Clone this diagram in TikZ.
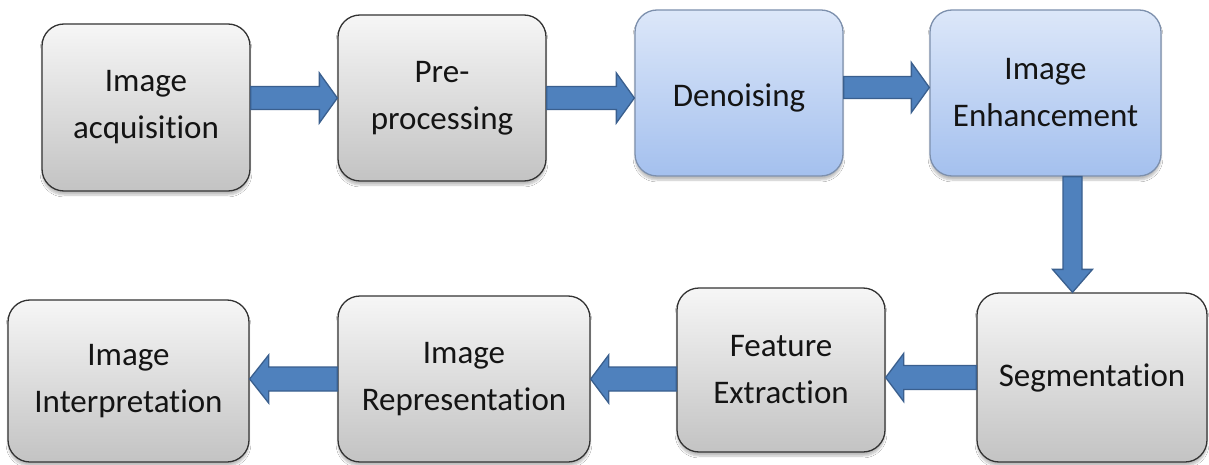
\documentclass[tikz,border=0pt]{standalone}
\usepackage{fontspec}
\setmainfont{Carlito}[Ligatures=NoCommon]
\usetikzlibrary{calc,shadows.blur}
\definecolor{arrowblue}{HTML}{4F81BD}
\definecolor{arrowdark}{HTML}{3A5F8E}
\definecolor{graytop}{HTML}{F6F6F6}
\definecolor{graybot}{HTML}{C3C3C3}
\definecolor{bluetop}{HTML}{DCE7F9}
\definecolor{bluebot}{HTML}{A4C0EE}
\definecolor{blueedge}{HTML}{7D90AD}
\definecolor{txt}{HTML}{141414}
\tikzset{
  box/.style={rounded corners=22pt, line width=1.3pt, align=center, text=txt,
    font=\fontsize{33}{47}\selectfont, inner sep=0pt,
    blur shadow={shadow xshift=0pt, shadow yshift=-4pt, shadow opacity=25, shadow blur steps=6}},
  graybox/.style={box, draw=black!80, top color=graytop, bottom color=graybot},
  bluebox/.style={box, draw=blueedge, top color=bluetop, bottom color=bluebot},
  barrow/.style n args={3}{fill=arrowblue, draw=arrowdark, line width=1.3pt, line join=miter,
    to path={
      ($(\tikztotarget)!#3!(\tikztostart)$) coordinate (bh)
      ($(\tikztostart)!#1!90:(\tikztotarget)$) -- ($(bh)!#1!-90:(\tikztostart)$)
      -- ($(bh)!#2!-90:(\tikztostart)$) -- (\tikztotarget)
      -- ($(bh)!#2!90:(\tikztostart)$) -- ($(bh)!#1!90:(\tikztostart)$)
      -- ($(\tikztostart)!#1!-90:(\tikztotarget)$) -- cycle}}
}
\begin{document}
\begin{tikzpicture}[x=1pt,y=-1pt]
\useasboundingbox[fill=white] (0,0) rectangle (1209,465);
% top row
\node[graybox, minimum width=208pt, minimum height=167pt] (acq) at (146,107.5) {Image\\acquisition};
\node[graybox, minimum width=208pt, minimum height=166pt] (pre) at (442,98) {Pre-\\processing};
\node[bluebox, minimum width=208pt, minimum height=166pt] (den) at (739,93) {\raisebox{-5pt}[\height][\depth]{Denoising}};
\node[bluebox, minimum width=231pt, minimum height=166pt] (enh) at (1045.5,93) {Image\\Enhancement};
% bottom row
\node[graybox, minimum width=230pt, minimum height=169pt] (seg) at (1092,377.5) {Segmentation};
\node[graybox, minimum width=208pt, minimum height=164pt] (feat) at (781,370) {Feature\\Extraction};
\node[graybox, minimum width=252pt, minimum height=166pt] (rep) at (464,379) {Image\\Representation};
\node[graybox, minimum width=241pt, minimum height=162pt] (int) at (128.5,381) {Image\\Interpretation};
% arrows
\draw[barrow={11.5pt}{25pt}{18pt}] (acq.east |- pre.west) to (pre.west);
\draw[barrow={11.5pt}{25pt}{18pt}] (pre.east) to (den.west |- pre.east);
\draw[barrow={11pt}{25pt}{18pt}] ([yshift=5.5pt]den.east) to ([yshift=5.5pt]enh.west);
\draw[barrow={9.5pt}{20pt}{23pt}] ([xshift=27pt]enh.south) to ([xshift=27pt]enh.south |- seg.north);
\draw[barrow={12pt}{24pt}{18pt}] (seg.west) to (feat.east |- seg.west);
\draw[barrow={12pt}{24pt}{18pt}] (feat.west |- rep.east) to (rep.east);
\draw[barrow={12pt}{24pt}{19pt}] (rep.west) to (int.east |- rep.west);
\end{tikzpicture}
\end{document}
